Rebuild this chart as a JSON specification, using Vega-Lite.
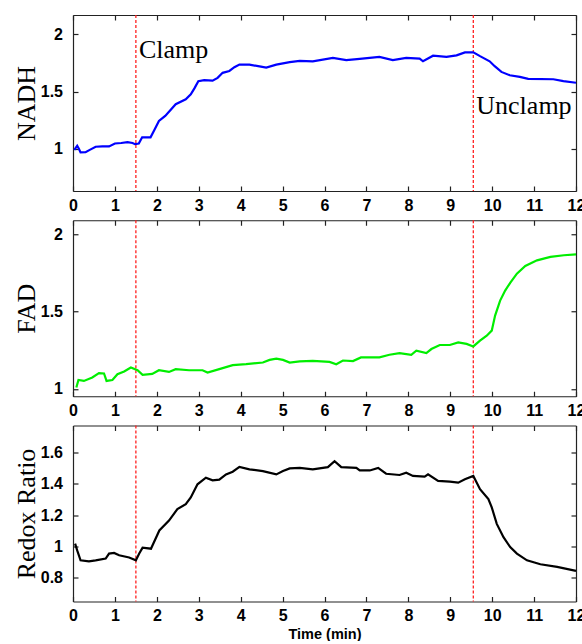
{
  "$schema": "https://vega.github.io/schema/vega-lite/v6.json",
  "padding": {"left": 13, "top": 14, "right": 4, "bottom": 0},
  "background": "white",
  "datasets": {
    "nadh": [
      {"t": 0.03, "v": 0.99}, {"t": 0.1, "v": 1.026}, {"t": 0.14, "v": 1.0}, {"t": 0.18, "v": 0.968},
      {"t": 0.3, "v": 0.97}, {"t": 0.4, "v": 0.99}, {"t": 0.54, "v": 1.017}, {"t": 0.7, "v": 1.02},
      {"t": 0.86, "v": 1.02}, {"t": 1.0, "v": 1.046}, {"t": 1.15, "v": 1.05}, {"t": 1.3, "v": 1.058},
      {"t": 1.42, "v": 1.05}, {"t": 1.48, "v": 1.04}, {"t": 1.57, "v": 1.045}, {"t": 1.65, "v": 1.1},
      {"t": 1.85, "v": 1.1}, {"t": 1.95, "v": 1.17}, {"t": 2.05, "v": 1.243}, {"t": 2.2, "v": 1.287},
      {"t": 2.45, "v": 1.389}, {"t": 2.69, "v": 1.432}, {"t": 2.81, "v": 1.476}, {"t": 2.9, "v": 1.53},
      {"t": 2.99, "v": 1.59}, {"t": 3.13, "v": 1.6}, {"t": 3.33, "v": 1.595}, {"t": 3.45, "v": 1.62},
      {"t": 3.57, "v": 1.664}, {"t": 3.73, "v": 1.68}, {"t": 3.85, "v": 1.713}, {"t": 3.97, "v": 1.736},
      {"t": 4.21, "v": 1.736}, {"t": 4.45, "v": 1.72}, {"t": 4.61, "v": 1.71}, {"t": 4.85, "v": 1.736},
      {"t": 5.17, "v": 1.757}, {"t": 5.41, "v": 1.768}, {"t": 5.72, "v": 1.765}, {"t": 6.2, "v": 1.794},
      {"t": 6.52, "v": 1.776}, {"t": 6.84, "v": 1.786}, {"t": 7.31, "v": 1.803}, {"t": 7.63, "v": 1.776},
      {"t": 7.95, "v": 1.794}, {"t": 8.27, "v": 1.789}, {"t": 8.35, "v": 1.765}, {"t": 8.59, "v": 1.814},
      {"t": 8.91, "v": 1.803}, {"t": 9.15, "v": 1.817}, {"t": 9.35, "v": 1.843}, {"t": 9.55, "v": 1.843},
      {"t": 9.71, "v": 1.81}, {"t": 9.94, "v": 1.765}, {"t": 10.06, "v": 1.722}, {"t": 10.22, "v": 1.672},
      {"t": 10.42, "v": 1.643}, {"t": 10.66, "v": 1.628}, {"t": 10.86, "v": 1.611}, {"t": 11.46, "v": 1.608},
      {"t": 11.7, "v": 1.591}, {"t": 12.0, "v": 1.577}
    ],
    "fad": [
      {"t": 0.08, "v": 1.01}, {"t": 0.13, "v": 1.058}, {"t": 0.26, "v": 1.052}, {"t": 0.46, "v": 1.074},
      {"t": 0.62, "v": 1.102}, {"t": 0.74, "v": 1.1}, {"t": 0.8, "v": 1.052}, {"t": 0.94, "v": 1.058},
      {"t": 1.06, "v": 1.095}, {"t": 1.22, "v": 1.113}, {"t": 1.38, "v": 1.139}, {"t": 1.54, "v": 1.121},
      {"t": 1.66, "v": 1.091}, {"t": 1.89, "v": 1.097}, {"t": 2.05, "v": 1.121}, {"t": 2.29, "v": 1.11},
      {"t": 2.45, "v": 1.128}, {"t": 2.77, "v": 1.121}, {"t": 3.09, "v": 1.121}, {"t": 3.21, "v": 1.106},
      {"t": 3.49, "v": 1.128}, {"t": 3.81, "v": 1.154}, {"t": 4.13, "v": 1.16}, {"t": 4.53, "v": 1.171},
      {"t": 4.69, "v": 1.188}, {"t": 4.85, "v": 1.196}, {"t": 5.01, "v": 1.188}, {"t": 5.17, "v": 1.171},
      {"t": 5.41, "v": 1.178}, {"t": 5.72, "v": 1.181}, {"t": 6.12, "v": 1.175}, {"t": 6.28, "v": 1.16},
      {"t": 6.44, "v": 1.184}, {"t": 6.68, "v": 1.18}, {"t": 6.87, "v": 1.204}, {"t": 7.31, "v": 1.204},
      {"t": 7.55, "v": 1.221}, {"t": 7.79, "v": 1.232}, {"t": 8.07, "v": 1.221}, {"t": 8.19, "v": 1.247},
      {"t": 8.43, "v": 1.232}, {"t": 8.55, "v": 1.258}, {"t": 8.75, "v": 1.284}, {"t": 8.99, "v": 1.284},
      {"t": 9.19, "v": 1.301}, {"t": 9.39, "v": 1.291}, {"t": 9.55, "v": 1.275}, {"t": 9.71, "v": 1.312},
      {"t": 9.87, "v": 1.344}, {"t": 9.99, "v": 1.377}, {"t": 10.07, "v": 1.474}, {"t": 10.19, "v": 1.571},
      {"t": 10.31, "v": 1.636}, {"t": 10.43, "v": 1.686}, {"t": 10.59, "v": 1.745}, {"t": 10.79, "v": 1.795},
      {"t": 11.07, "v": 1.831}, {"t": 11.39, "v": 1.853}, {"t": 11.71, "v": 1.864}, {"t": 12.0, "v": 1.87}
    ],
    "redox": [
      {"t": 0.05, "v": 1.018}, {"t": 0.1, "v": 0.975}, {"t": 0.18, "v": 0.912}, {"t": 0.38, "v": 0.906},
      {"t": 0.54, "v": 0.912}, {"t": 0.78, "v": 0.923}, {"t": 0.86, "v": 0.955}, {"t": 0.98, "v": 0.959},
      {"t": 1.1, "v": 0.944}, {"t": 1.34, "v": 0.93}, {"t": 1.5, "v": 0.912}, {"t": 1.58, "v": 0.955},
      {"t": 1.66, "v": 0.992}, {"t": 1.86, "v": 0.986}, {"t": 2.06, "v": 1.102}, {"t": 2.29, "v": 1.165},
      {"t": 2.49, "v": 1.238}, {"t": 2.69, "v": 1.27}, {"t": 2.81, "v": 1.312}, {"t": 2.97, "v": 1.396},
      {"t": 3.17, "v": 1.438}, {"t": 3.33, "v": 1.421}, {"t": 3.49, "v": 1.425}, {"t": 3.65, "v": 1.459},
      {"t": 3.81, "v": 1.476}, {"t": 3.97, "v": 1.507}, {"t": 4.21, "v": 1.491}, {"t": 4.53, "v": 1.48},
      {"t": 4.85, "v": 1.459}, {"t": 5.01, "v": 1.48}, {"t": 5.17, "v": 1.497}, {"t": 5.41, "v": 1.5},
      {"t": 5.72, "v": 1.491}, {"t": 6.08, "v": 1.505}, {"t": 6.24, "v": 1.543}, {"t": 6.4, "v": 1.505},
      {"t": 6.76, "v": 1.5}, {"t": 6.84, "v": 1.484}, {"t": 7.08, "v": 1.484}, {"t": 7.28, "v": 1.5},
      {"t": 7.47, "v": 1.463}, {"t": 7.79, "v": 1.455}, {"t": 7.95, "v": 1.469}, {"t": 8.11, "v": 1.449},
      {"t": 8.39, "v": 1.445}, {"t": 8.47, "v": 1.459}, {"t": 8.71, "v": 1.417}, {"t": 8.99, "v": 1.413},
      {"t": 9.19, "v": 1.406}, {"t": 9.35, "v": 1.428}, {"t": 9.55, "v": 1.449}, {"t": 9.71, "v": 1.365},
      {"t": 9.91, "v": 1.302}, {"t": 9.99, "v": 1.249}, {"t": 10.11, "v": 1.144}, {"t": 10.27, "v": 1.059},
      {"t": 10.43, "v": 0.996}, {"t": 10.59, "v": 0.955}, {"t": 10.83, "v": 0.912}, {"t": 11.15, "v": 0.887},
      {"t": 11.55, "v": 0.87}, {"t": 12.0, "v": 0.845}
    ],
    "events": [
      {"t": 1.5, "label": "Clamp", "ly": 1.79},
      {"t": 9.55, "label": "Unclamp", "ly": 1.306}
    ]
  },
  "config": {
    "view": {"stroke": null},
    "axis": {
      "grid": false,
      "domainColor": "#222",
      "domainWidth": 1.2,
      "tickColor": "#222",
      "tickWidth": 1.2,
      "tickSize": -5,
      "labelFont": "Liberation Sans",
      "labelFontWeight": "bold",
      "labelFontSize": 16,
      "labelColor": "#000",
      "labelFlush": false,
      "labelOverlap": false,
      "titleFont": "Liberation Serif",
      "titleFontWeight": "normal",
      "titleFontSize": 26,
      "titleColor": "#000"
    }
  },
  "spacing": 29.25,
  "bounds": "flush",
  "vconcat": [
    {
      "width": 503,
      "height": 176,
      "resolve": {"axis": {"x": "independent", "y": "independent"}},
      "layer": [
        {
          "data": {"name": "events"},
          "mark": {"type": "rule", "color": "#ff2020", "strokeDash": [3, 2], "strokeWidth": 1.3},
          "encoding": {"x": {"field": "t", "type": "quantitative", "axis": null}}
        },
        {
          "data": {"name": "nadh"},
          "mark": {"type": "line", "color": "#0000ff", "strokeWidth": 2.2},
          "encoding": {
            "x": {"field": "t", "type": "quantitative", "scale": {"domain": [0, 12], "nice": false},
                  "axis": {"orient": "bottom", "values": [0,1,2,3,4,5,6,7,8,9,10,11,12], "format": "d", "labelPadding": 11, "title": null}},
            "y": {"field": "v", "type": "quantitative", "scale": {"domain": [0.63, 2.17], "nice": false, "zero": false},
                  "axis": {"orient": "left", "values": [1, 1.5, 2], "format": "~g", "labelPadding": 15.5, "title": "NADH", "titleX": -39, "titleBaseline": "alphabetic"}}
          }
        },
        {
          "data": {"name": "nadh"},
          "mark": {"type": "line", "opacity": 0},
          "encoding": {
            "x": {"field": "t", "type": "quantitative", "axis": {"orient": "top", "values": [0,1,2,3,4,5,6,7,8,9,10,11,12], "labels": false, "title": null}},
            "y": {"field": "v", "type": "quantitative", "axis": {"orient": "right", "values": [1, 1.5, 2], "labels": false, "title": null}}
          }
        },
        {
          "data": {"name": "events"},
          "mark": {"type": "text", "align": "left", "baseline": "alphabetic", "dx": 3, "font": "Liberation Serif", "fontSize": 26, "color": "#000"},
          "encoding": {
            "x": {"field": "t", "type": "quantitative", "axis": null},
            "y": {"field": "ly", "type": "quantitative", "axis": null},
            "text": {"field": "label"}
          }
        }
      ]
    },
    {
      "width": 503,
      "height": 176,
      "resolve": {"axis": {"x": "independent", "y": "independent"}},
      "layer": [
        {
          "data": {"name": "events"},
          "mark": {"type": "rule", "color": "#ff2020", "strokeDash": [3, 2], "strokeWidth": 1.3},
          "encoding": {"x": {"field": "t", "type": "quantitative", "axis": null}}
        },
        {
          "data": {"name": "fad"},
          "mark": {"type": "line", "color": "#00ee00", "strokeWidth": 2.2},
          "encoding": {
            "x": {"field": "t", "type": "quantitative", "scale": {"domain": [0, 12], "nice": false},
                  "axis": {"orient": "bottom", "values": [0,1,2,3,4,5,6,7,8,9,10,11,12], "format": "d", "labelPadding": 11, "title": null}},
            "y": {"field": "v", "type": "quantitative", "scale": {"domain": [0.953, 2.09], "nice": false, "zero": false},
                  "axis": {"orient": "left", "values": [1, 1.5, 2], "format": "~g", "labelPadding": 15.5, "title": "FAD", "titleX": -39, "titleBaseline": "alphabetic"}}
          }
        },
        {
          "data": {"name": "fad"},
          "mark": {"type": "line", "opacity": 0},
          "encoding": {
            "x": {"field": "t", "type": "quantitative", "axis": {"orient": "top", "values": [0,1,2,3,4,5,6,7,8,9,10,11,12], "labels": false, "title": null}},
            "y": {"field": "v", "type": "quantitative", "axis": {"orient": "right", "values": [1, 1.5, 2], "labels": false, "title": null}}
          }
        }
      ]
    },
    {
      "width": 503,
      "height": 176,
      "resolve": {"axis": {"x": "independent", "y": "independent"}},
      "layer": [
        {
          "data": {"name": "events"},
          "mark": {"type": "rule", "color": "#ff2020", "strokeDash": [3, 2], "strokeWidth": 1.3},
          "encoding": {"x": {"field": "t", "type": "quantitative", "axis": null}}
        },
        {
          "data": {"name": "redox"},
          "mark": {"type": "line", "color": "#000000", "strokeWidth": 2.2},
          "encoding": {
            "x": {"field": "t", "type": "quantitative", "scale": {"domain": [0, 12], "nice": false},
                  "axis": {"orient": "bottom", "values": [0,1,2,3,4,5,6,7,8,9,10,11,12], "format": "d", "labelPadding": 11,
                           "title": "Time (min)", "titleFont": "Liberation Sans", "titleFontWeight": "bold", "titleFontSize": 14.5,
                           "titleY": 37, "titleBaseline": "alphabetic"}},
            "y": {"field": "v", "type": "quantitative", "scale": {"domain": [0.65, 1.77], "nice": false, "zero": false},
                  "axis": {"orient": "left", "values": [0.8, 1, 1.2, 1.4, 1.6], "format": "~g", "labelPadding": 15.5, "title": "Redox Ratio", "titleX": -39, "titleBaseline": "alphabetic"}}
          }
        },
        {
          "data": {"name": "redox"},
          "mark": {"type": "line", "opacity": 0},
          "encoding": {
            "x": {"field": "t", "type": "quantitative", "axis": {"orient": "top", "values": [0,1,2,3,4,5,6,7,8,9,10,11,12], "labels": false, "title": null}},
            "y": {"field": "v", "type": "quantitative", "axis": {"orient": "right", "values": [0.8, 1, 1.2, 1.4, 1.6], "labels": false, "title": null}}
          }
        }
      ]
    }
  ]
}
